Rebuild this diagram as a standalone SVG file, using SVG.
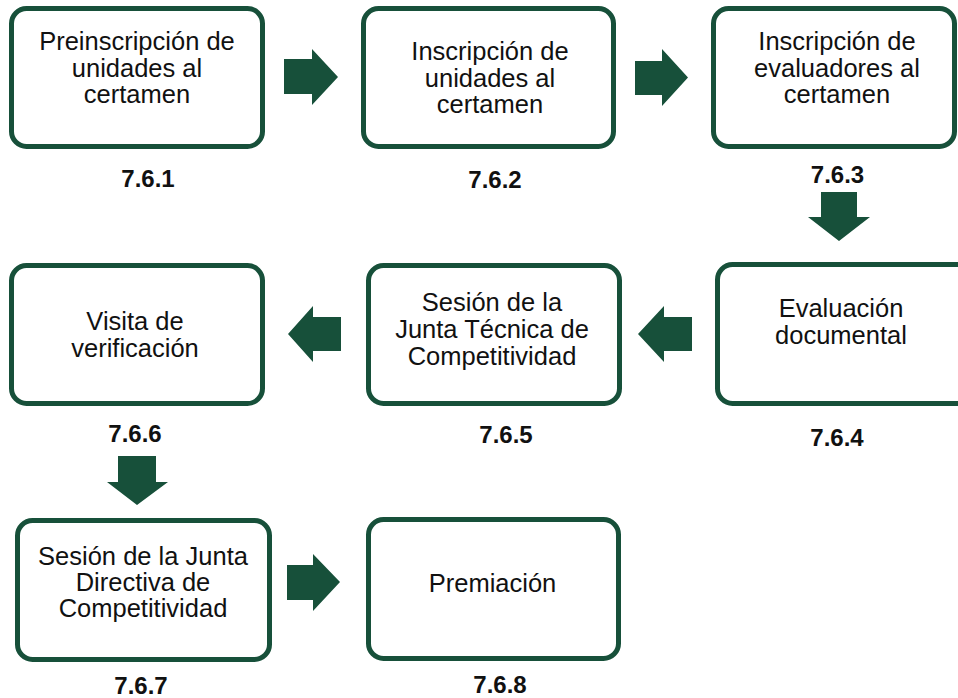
<svg xmlns="http://www.w3.org/2000/svg" width="958" height="698" viewBox="0 0 958 698">
<style>
.box{fill:#fff;stroke:#17503a;stroke-width:5}
.arr{fill:#17503a}
.t{font-family:"Liberation Sans",Arial,sans-serif;font-size:25.5px;fill:#111;text-anchor:middle}
.n{font-family:"Liberation Sans",Arial,sans-serif;font-size:24px;font-weight:bold;fill:#111;text-anchor:middle}
</style>
<rect width="958" height="698" fill="#fff"/>
<g id="connectors">
<polygon class="arr" points="284,59 312,59 312,49 338,77 312,105 312,94 284,94"/>
<polygon class="arr" points="635,61 662,61 662,49 688,77.5 662,106 662,95 635,95"/>
<polygon class="arr" points="821,192 857,192 857,217 870,217 839,241 808,217 821,217"/>
<polygon class="arr" points="692,317 664,317 664,306 638,334 664,362 664,351 692,351"/>
<polygon class="arr" points="341,317 313,317 313,306 288,334 313,362 313,351 341,351"/>
<polygon class="arr" points="118,456 156,456 156,482 168,482 137,505 107,482 118,482"/>
<polygon class="arr" points="287,565 313,565 313,554 340,582 313,611 313,600 287,600"/>
</g>
<g id="n761">
<rect class="box" x="11.5" y="8.5" width="251" height="138" rx="15"/>
<text class="t" x="137" y="50">Preinscripción de</text>
<text class="t" x="137" y="77">unidades al</text>
<text class="t" x="137" y="103">certamen</text>
<text class="n" x="148" y="187">7.6.1</text>
</g>
<g id="n762">
<rect class="box" x="363.5" y="8.5" width="250" height="138" rx="15"/>
<text class="t" x="490" y="60">Inscripción de</text>
<text class="t" x="490" y="87">unidades al</text>
<text class="t" x="490" y="113">certamen</text>
<text class="n" x="495" y="188">7.6.2</text>
</g>
<g id="n763">
<rect class="box" x="713.5" y="8.5" width="241" height="138" rx="15"/>
<text class="t" x="837" y="50">Inscripción de</text>
<text class="t" x="837" y="77">evaluadores al</text>
<text class="t" x="837" y="103">certamen</text>
<text class="n" x="837.5" y="183">7.6.3</text>
</g>
<g id="n764">
<rect class="box" x="717.5" y="264.5" width="256" height="139" rx="15"/>
<text class="t" x="841" y="317">Evaluación</text>
<text class="t" x="841" y="344">documental</text>
<text class="n" x="837" y="446">7.6.4</text>
</g>
<g id="n765">
<rect class="box" x="368.5" y="265.5" width="251" height="138" rx="15"/>
<text class="t" x="492" y="311">Sesión de la</text>
<text class="t" x="492" y="338">Junta Técnica de</text>
<text class="t" x="492" y="365">Competitividad</text>
<text class="n" x="506" y="443">7.6.5</text>
</g>
<g id="n766">
<rect class="box" x="11.5" y="265.5" width="251" height="138" rx="15"/>
<text class="t" x="135" y="330">Visita de</text>
<text class="t" x="135" y="357">verificación</text>
<text class="n" x="135" y="442">7.6.6</text>
</g>
<g id="n767">
<rect class="box" x="17.5" y="520.5" width="252" height="139" rx="15"/>
<text class="t" x="143" y="565">Sesión de la Junta</text>
<text class="t" x="143" y="591">Directiva de</text>
<text class="t" x="143" y="617">Competitividad</text>
<text class="n" x="141" y="694">7.6.7</text>
</g>
<g id="n768">
<rect class="box" x="368.5" y="519.5" width="250" height="139" rx="15"/>
<text class="t" x="492.5" y="592">Premiación</text>
<text class="n" x="500" y="693">7.6.8</text>
</g>
</svg>
